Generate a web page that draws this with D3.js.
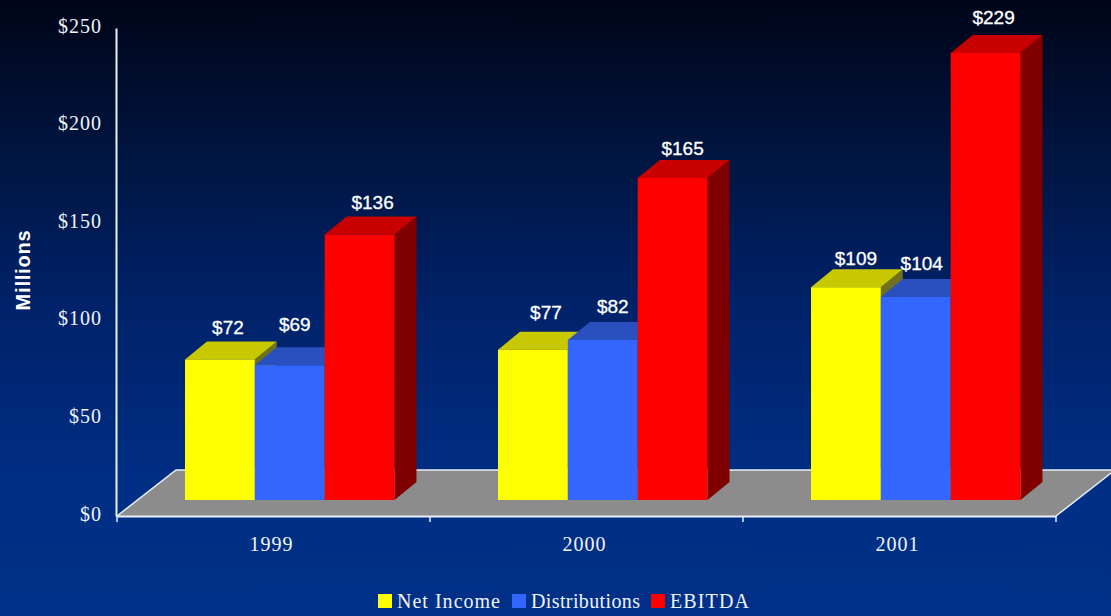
<!DOCTYPE html>
<html><head><meta charset="utf-8">
<script src="https://cdnjs.cloudflare.com/ajax/libs/d3/7.8.5/d3.min.js"></script>
<style>html,body{margin:0;padding:0;background:#003087;overflow:hidden}svg{display:block}</style>
</head><body><svg id="c" width="1111" height="616"></svg>
<script>
const categories = ["1999","2000","2001"];
const seriesNames = ["Net Income","Distributions","EBITDA"];
const netIncome = [72,77,109];
const distributions = [69,82,104];
const ebitda = [136,165,229];
const yTicks = [0,50,100,150,200,250];
const seriesValues = [netIncome,distributions,ebitda];
const frontColors = ["#ffff00","#3366ff","#ff0000"];
const topColors = ["#c8c800","#2a50c0","#c80000"];
const sideColors = ["#6f7020","#1c3390","#800000"];
// hand placement of the value labels, [dx, dy] by series then category
const labelNudge = [
  [[0,-1],[5,-7],[2,2]],
  [[-3,-10],[2,-3],[-2,-3]],
  [[5,-2],[2,1],[0,-5]]
];

const W=1111,H=616;
const svg=d3.select("#c");
const defs=svg.append("defs");
const g=defs.append("linearGradient").attr("id","bg").attr("x1",0).attr("y1",0).attr("x2",0).attr("y2",1);
[[0,"#000518"],[0.25,"#001540"],[0.5,"#00226a"],[0.8,"#002f85"],[1,"#003087"]].forEach(s=>g.append("stop").attr("offset",s[0]).attr("stop-color",s[1]));
svg.append("rect").attr("width",W).attr("height",H).attr("fill","url(#bg)");

const y=d3.scaleLinear().domain([0,250]).range([516,28]);
const x0=d3.scaleBand().domain(categories).range([117,1056]);
const x1=d3.scaleBand().domain(seriesNames).range([68,277.5]);
const floorDx=59,floorDy=-46,barDx=22,barDy=-18,barLift=-16;

// floor
const fl=[[x0.range()[0],y(0)],[x0.range()[1],y(0)],[x0.range()[1]+floorDx,y(0)+floorDy],[x0.range()[0]+floorDx,y(0)+floorDy]];
svg.append("path").attr("d",d3.line()(fl)+"Z").attr("fill","#8c8c8c");
svg.append("path").attr("d",d3.line()([fl[0],fl[3],fl[2]])).attr("fill","none").attr("stroke","#e8f0f8").attr("stroke-width",1.5);
svg.append("path").attr("d",d3.line()([fl[1],fl[2]])).attr("fill","none").attr("stroke","#e8f0f8").attr("stroke-width",1.5);

// bars
categories.forEach((c,i)=>{
  seriesNames.forEach((s,j)=>{
    const v=seriesValues[j][i];
    const xl=x0(c)+x1(s), xr=xl+x1.bandwidth();
    const yb=y(0)+barLift, yt=y(v)+barLift;
    const gb=svg.append("g");
    gb.append("path").attr("d",d3.line()([[xr,yb],[xr+barDx,yb+barDy],[xr+barDx,yt+barDy],[xr,yt]])+"Z").attr("fill",sideColors[j]);
    gb.append("path").attr("d",d3.line()([[xl,yt],[xl+barDx,yt+barDy],[xr+barDx,yt+barDy],[xr,yt]])+"Z").attr("fill",topColors[j]);
    gb.append("rect").attr("x",xl).attr("y",yt).attr("width",xr-xl).attr("height",yb-yt).attr("fill",frontColors[j]);
  });
});
// labels
const labelFont='"Liberation Sans",Arial,sans-serif';
categories.forEach((c,i)=>{
  seriesNames.forEach((s,j)=>{
    const v=seriesValues[j][i], n=labelNudge[j][i];
    svg.append("text").attr("x",x0(c)+x1(s)+x1.bandwidth()/2+8+n[0]).attr("y",y(v)+barLift-24+n[1])
      .attr("text-anchor","middle").attr("fill","#fff").attr("font-family",labelFont).attr("font-size",19).attr("stroke","#fff").attr("stroke-width",0.3).text("$"+v);
  });
});
// axes
const serif='"Liberation Serif","Times New Roman",serif';
const ya=svg.append("g").attr("transform","translate(116,0)").call(d3.axisLeft(y).tickValues(yTicks).tickSize(0).tickPadding(14).tickFormat(d=>"$"+d));
const xa=svg.append("g").attr("transform","translate(0,516)").call(d3.axisBottom(x0).tickSize(0).tickPadding(21));
svg.append("g").selectAll("line").data(categories.concat(["end"])).join("line")
  .attr("x1",d=>d==="end"?x0.range()[1]:x0(d)).attr("x2",d=>d==="end"?x0.range()[1]:x0(d))
  .attr("y1",516).attr("y2",522).attr("stroke","#e8f0f8").attr("stroke-width",1.5);
[ya,xa].forEach(a=>{
  a.selectAll("path.domain").attr("stroke","#e8f0f8").attr("stroke-width",2);
  a.selectAll("text").attr("fill","#f0f5fa").attr("font-family",serif).attr("font-size",20).attr("letter-spacing",1);
});
ya.selectAll("text").attr("dy","0.2em");
xa.selectAll("text").attr("dx",-2);
svg.append("text").attr("transform","translate(30,270) rotate(-90)").attr("text-anchor","middle").attr("fill","#fff")
  .attr("font-family",labelFont).attr("font-weight","bold").attr("font-size",20).attr("letter-spacing",0.8).text("Millions");

// legend
const legendX=[378,512,651], legendTextX=[397,531,670], legendTextLen=[103,109,79];
seriesNames.forEach((s,j)=>{
  svg.append("rect").attr("x",legendX[j]).attr("y",594).attr("width",14).attr("height",14).attr("fill",frontColors[j]);
  svg.append("text").attr("x",legendTextX[j]).attr("y",608).attr("fill","#eef4fa").attr("font-family",serif).attr("font-size",20).attr("textLength",legendTextLen[j]).text(s);
});
</script></body></html>
